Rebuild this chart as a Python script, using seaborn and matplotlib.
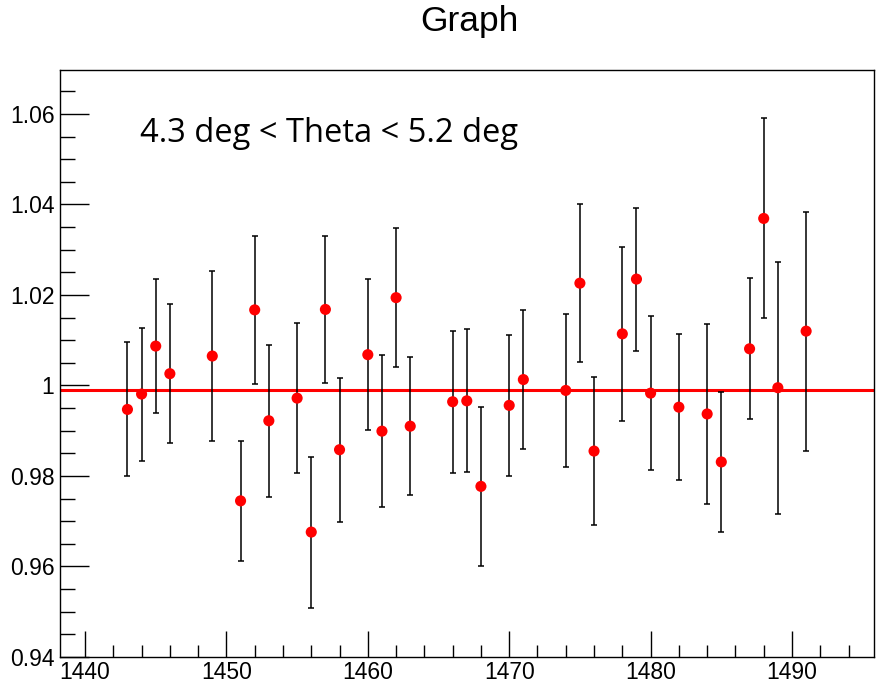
import numpy as np
import pandas as pd
import matplotlib
matplotlib.use("Agg")
import matplotlib.pyplot as plt
from matplotlib.ticker import MultipleLocator, FuncFormatter
import seaborn as sns

# ---- data ----
x_vals = [1443, 1444, 1445, 1446, 1449, 1451, 1452, 1453, 1455, 1456, 1457, 1458,
          1460, 1461, 1462, 1463, 1466, 1467, 1468, 1470, 1471, 1474, 1475, 1476,
          1478, 1479, 1480, 1482, 1484, 1485, 1487, 1488, 1489, 1491]
y_vals = [0.9947, 0.9981, 1.0087, 1.0026, 1.0065, 0.9745, 1.0167, 0.9922, 0.9972, 0.9676, 1.0168, 0.9858,
          1.0068, 0.9899, 1.0194, 0.9910, 0.9964, 0.9966, 0.9777, 0.9956, 1.0013, 0.9989, 1.0226, 0.9855,
          1.0114, 1.0235, 0.9983, 0.9952, 0.9937, 0.9831, 1.0081, 1.0369, 0.9995, 1.0120]
y_errs = [0.0148, 0.0147, 0.0148, 0.0153, 0.0188, 0.0133, 0.0163, 0.0168, 0.0166, 0.0167, 0.0162, 0.0159,
          0.0167, 0.0168, 0.0153, 0.0153, 0.0157, 0.0158, 0.0175, 0.0156, 0.0153, 0.0169, 0.0175, 0.0164,
          0.0192, 0.0158, 0.0170, 0.0162, 0.0198, 0.0155, 0.0156, 0.0221, 0.0278, 0.0264]
fit_value = 0.999
title_text = "Graph"
label_text = "4.3 deg < Theta < 5.2 deg"

df = pd.DataFrame({"x": x_vals, "y": y_vals, "err": y_errs})

sns.set_theme(style="white")
plt.rcParams["font.family"] = ["Liberation Sans", "DejaVu Sans"]
plt.rcParams["text.color"] = "black"

fig = plt.figure(figsize=(8.78, 6.86), dpi=100)
ax = fig.add_axes([60 / 878, 1 - 657 / 686, (874 - 60) / 878, (657 - 70) / 686])

ax.axhline(fit_value, color="#ff0000", lw=2.2, zorder=2)
ax.errorbar(df["x"], df["y"], yerr=df["err"], fmt="none", ecolor="black",
            elinewidth=1.1, capsize=2.2, capthick=1.1, zorder=3)
sns.scatterplot(data=df, x="x", y="y", ax=ax, color="#ff0000", s=64,
                edgecolor="none", zorder=4)

ax.set_xlim(1438.23, 1495.8)
ax.set_ylim(0.94, 1.0697)
ax.set_xlabel("")
ax.set_ylabel("")

ax.xaxis.set_major_locator(MultipleLocator(10))
ax.xaxis.set_minor_locator(MultipleLocator(2))
ax.yaxis.set_major_locator(MultipleLocator(0.02))
ax.yaxis.set_minor_locator(MultipleLocator(0.005))

def yfmt(v, pos):
    if abs(v - 1.0) < 1e-9:
        return "1"
    return f"{v:.2f}"
ax.yaxis.set_major_formatter(FuncFormatter(yfmt))

ax.tick_params(axis="both", which="both", direction="in", left=True, bottom=True,
               top=False, right=False, colors="black", labelsize=16.5, width=1.0)
ax.tick_params(axis="y", which="major", length=21, pad=4)
ax.tick_params(axis="y", which="minor", length=11)
ax.tick_params(axis="x", which="major", length=19, pad=3)
ax.tick_params(axis="x", which="minor", length=9)

for sp in ax.spines.values():
    sp.set_color("black")
    sp.set_linewidth(1.0)
    sp.set_visible(True)

fig.text(469 / 878, 1 - 21 / 686, title_text, ha="center", va="center",
         fontsize=25.5, color="black", family=["Liberation Sans", "DejaVu Sans"])
ax.text(1443.9, 1.0557, label_text, ha="left", va="center", fontsize=23.5,
        color="black", family=["Open Sans", "DejaVu Sans"])

fig.savefig("out.png", dpi=100)
